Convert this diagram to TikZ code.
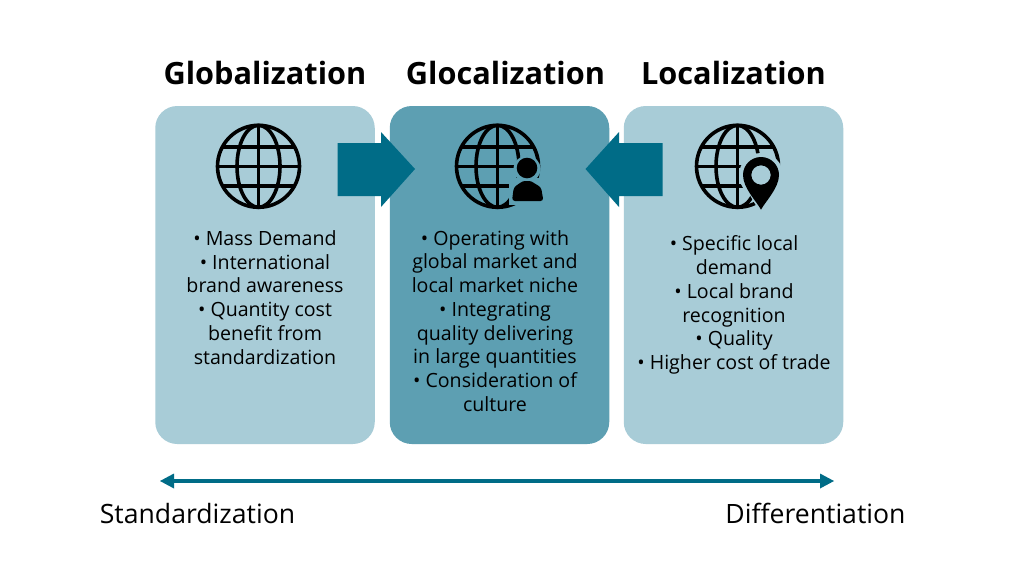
\documentclass[tikz,border=0pt]{standalone}
\usepackage{fontspec}
\setmainfont{Open Sans}
\definecolor{lightbox}{HTML}{A8CCD7}
\definecolor{midbox}{HTML}{5D9FB2}
\definecolor{darkteal}{HTML}{006C87}
\newcommand{\globeicon}[2]{%
  \begin{scope}[shift={(#1,#2)},draw=black,line width=3.6pt]
    \draw (0,0) circle [radius=41];
    \draw (0,0) ellipse [x radius=21.5, y radius=41];
    \draw (0,-41) -- (0,41);
    \draw (-41,0) -- (41,0);
    \draw (-36.2,-19.5) -- (36.2,-19.5);
    \draw (-36.2,19.5) -- (36.2,19.5);
  \end{scope}}
\tikzset{
  x=1pt,y=-1pt,
  panel/.style={draw=none,rounded corners=22pt,minimum width=219.5pt,minimum height=338pt,inner sep=0pt},
  bullets/.style={align=center,text=black,inner sep=0pt,font=\fontsize{19.6}{23.75}\selectfont},
  heading/.style={anchor=base,text=black,inner sep=0pt,font=\fontsize{30.7}{34}\selectfont\bfseries},
  caption/.style={anchor=base,text=black,inner sep=0pt,font=\fontsize{26.6}{30}\selectfont},
  blockarrow/.style={fill=darkteal,draw=none},
  axis/.style={draw=darkteal,line width=4.5pt},
  axistip/.style={fill=darkteal,draw=none}
}
\begin{document}
\begin{tikzpicture}
\useasboundingbox (0,0) rectangle (1024,576);
\fill[white] (0,0) rectangle (1024,576);
\node[panel,fill=lightbox] (gbox) at (265,275) {};
\node[panel,fill=midbox] (cbox) at (499.5,275) {};
\node[panel,fill=lightbox] (lbox) at (733.5,275) {};
\node[heading] (gtitle) at (265,84) {Globalization};
\node[heading] (ctitle) at (505.5,84) {Glocalization};
\node[heading] (ltitle) at (733.5,84) {Localization};
% globes
\globeicon{258.5}{166.3}
\globeicon{497.5}{166.3}
\globeicon{737.5}{166.3}
% person
\fill[midbox] (527,169) circle [radius=13.5];
\fill[midbox] (508.5,178) rectangle (547,205);
\fill[black] (527,168) circle [radius=10.3];
\fill[black,rounded corners=3pt] (512,201) -- (513,193) .. controls (514,186) and (519,184) .. (522,181) -- (532,181) .. controls (535,184) and (541,186) .. (542,193) -- (543.5,201) -- cycle;
% pin
\fill[lightbox] (761,175) circle [radius=22];
\fill[lightbox] (741,180) -- (761,214) -- (781,180) -- cycle;
\fill[black,even odd rule] (761,209.7) .. controls (757,202) and (743,188) .. (743,175) arc [start angle=180,end angle=360,radius=18] .. controls (779,188) and (765,202) .. (761,209.7) -- cycle (761,175) circle [radius=9.7];
% block arrows
\fill[blockarrow] (337.5,143) -- (381,143) -- (381,132) -- (415,169) -- (381,207) -- (381,196) -- (337.5,196) -- cycle;
\fill[blockarrow] (662.5,143) -- (619,143) -- (619,132) -- (585.5,169) -- (619,207) -- (619,196) -- (662.5,196) -- cycle;
% texts
\node[bullets] (gtext) at (265,297.5) {• Mass Demand\\• International\\brand awareness\\• Quantity cost\\benefit from\\standardization};
\node[bullets] (ctext) at (495,321) {• Operating with\\global market and\\local market niche\\• Integrating\\quality delivering\\in large quantities\\• Consideration of\\culture};
\node[bullets] (ltext) at (734,305) {• Specific local\\demand\\• Local brand\\recognition\\• Quality\\• Higher cost of trade};
% axis
\coordinate (axl) at (172,481);
\coordinate (axr) at (822,481);
\draw[axis] (axl) -- (axr);
\fill[axistip] (160,481) -- (174,473.5) -- (174,488.5) -- cycle;
\fill[axistip] (834,481) -- (820,473.5) -- (820,488.5) -- cycle;
\node[caption] (std) at (197.5,523.3) {Standardization};
\node[caption] (dif) at (815.5,523.3) {Differentiation};
\end{tikzpicture}
\end{document}
